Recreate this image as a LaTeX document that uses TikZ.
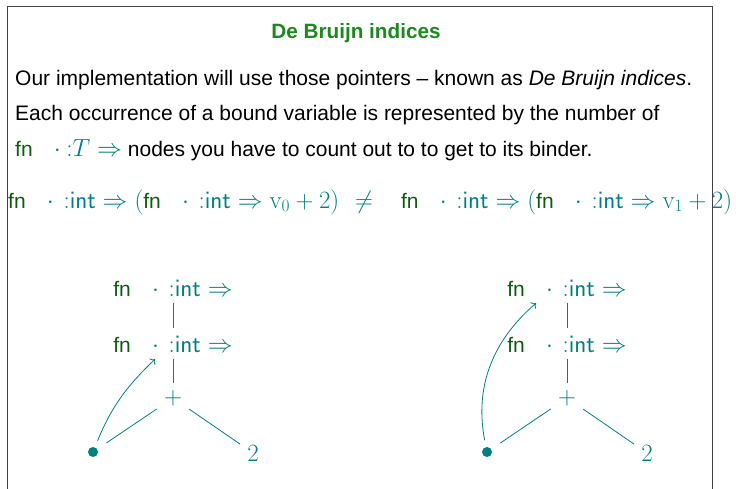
\documentclass[tikz,border=0pt]{standalone}
\usepackage[no-math]{fontspec}
\setmainfont{Liberation Sans}
\usetikzlibrary{arrows.meta}
\definecolor{ttl}{HTML}{1A8A1A}
\definecolor{fng}{HTML}{0E5C0E}
\definecolor{tl}{HTML}{008080}
\DeclareMathSizes{21}{25}{17.5}{12.5}
\newcommand{\fnkw}{\mbox{\textcolor{fng}{fn}}}
\newcommand{\bnd}{\fnkw\hspace{0.75em}\cdot\,\mathsf{{:}int}\Rightarrow}

\begin{document}
\begin{tikzpicture}[x=1pt, y=-1pt, font=\fontsize{21}{25}\selectfont,
  every node/.style={inner sep=0pt},
  binder/.style={text=tl, inner sep=7pt},
  leaf/.style={text=tl, inner sep=7pt},
  ptdot/.style={circle, fill=tl, minimum size=10pt},
  edge/.style={tl, line width=0.8pt},
  ptr/.style={tl, line width=0.8pt, -{To[scale=1.2]}}]
\useasboundingbox (0,0) rectangle (736,489);
\draw[line width=1pt, black!75] (7,489) -- (7,7) -- (712,7) -- (712,489);
% heading and text
\node[anchor=base, text=ttl, font=\fontsize{20.7}{24}\selectfont\bfseries] (title) at (356,39) {De Bruijn indices};
\node[anchor=base west] (l1) at (15,86) {Our implementation will use those pointers -- known as \emph{De Bruijn indices}.};
\node[anchor=base west] (l2) at (15,121) {Each occurrence of a bound variable is represented by the number of};
\node[anchor=base west] (l3) at (15,157) {\textcolor{tl}{$\fnkw\hspace{0.75em}\cdot{:}T\Rightarrow$} nodes you have to count out to to get to its binder.};
\node[anchor=base west, text=tl] (eq) at (8,208)
  {$\bnd(\bnd\mathrm{v}_0+2)\hspace{9pt}\neq\quad\bnd(\bnd\mathrm{v}_1+2)$};
% the two trees
\foreach \x/\k/\tgt/\dx/\bend in {173/l/mid/-18/12, 567/r/top/-31/30} {
  \node[binder, anchor=base] (top-\k) at (\x,296) {$\bnd$};
  \node[binder, anchor=base] (mid-\k) at (\x,352) {$\bnd$};
  \node[leaf] (plus-\k) at (\x,398) {$+$};
  \node[ptdot] (var-\k) at (\x-80,452) {};
  \node[leaf] (two-\k) at (\x+80,453) {$2$};
  \draw[edge] (top-\k) -- (mid-\k);
  \draw[edge] (mid-\k) -- (plus-\k);
  \draw[edge, shorten >=11pt] (plus-\k) -- (var-\k);
  \draw[edge] (plus-\k) -- (two-\k);
  \coordinate (to-\k) at ([xshift=\dx pt]\tgt-\k.south);
  \draw[ptr, shorten <=7pt] (var-\k) to[bend left=\bend] (to-\k);
}
\end{tikzpicture}
\end{document}
